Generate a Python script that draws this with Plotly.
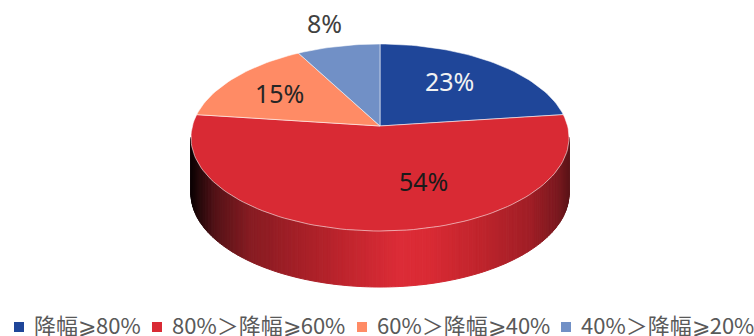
import math
import plotly.graph_objects as go

categories = ["降幅⩾80%", "80%＞降幅⩾60%", "60%＞降幅⩾40%", "40%＞降幅⩾20%"]
values = [23, 54, 15, 8]
labels = ["23%", "54%", "15%", "8%"]
colors = ["#1F4699", "#D92A34", "#FF8B65", "#7190C6"]
label_colors = ["#F2F2F2", "#1a1a1a", "#262626", "#404040"]
label_xy = [(449, 81), (423, 181), (279, 93), (324, 23)]
legend_swatch_x = [19, 157, 362, 566]
legend_text_x = [34, 172, 377, 581]
LEGEND_Y = 327
LEGEND_TEXT_Y = 324

CX, CY, A, B, K, DEPTH = 380.0, 126.0, 187.6, 92.1, 0.123, 56.0


def project(theta, r=1.0):
    u, v = r * math.sin(theta), r * math.cos(theta)
    d = 1 + K * v
    return CX + A * u / d, CY - B * v / d


STOPS = [(189, (8, 2, 3)), (215, (85, 18, 23)), (250, (135, 28, 34)), (300, (165, 31, 39)),
         (350, (194, 37, 46)), (400, (220, 44, 55)), (430, (217, 42, 52)), (480, (191, 36, 44)),
         (530, (160, 30, 38)), (558, (120, 24, 30)), (569, (90, 20, 24))]


def wall_color(x):
    for (x0, c0), (x1, c1) in zip(STOPS, STOPS[1:]):
        if x <= x1:
            t = max(0, (x - x0) / (x1 - x0))
            return "rgb(%d,%d,%d)" % tuple(round(a + (b - a) * t) for a, b in zip(c0, c1))
    return "rgb(%d,%d,%d)" % STOPS[-1][1]


fig = go.Figure()

# side wall of the disc
n = 160
t0, t1 = math.radians(97), math.radians(263)
for i in range(n):
    a0 = t0 + (t1 - t0) * i / n
    a1 = t0 + (t1 - t0) * (i + 1) / n
    x0, y0 = project(a0)
    x1, y1 = project(a1)
    col = wall_color((x0 + x1) / 2)
    fig.add_trace(go.Scatter(
        x=[x0, x1, x1, x0, x0], y=[y0, y1, y1 + DEPTH, y0 + DEPTH, y0],
        mode="lines", fill="toself", fillcolor=col, line=dict(color=col, width=1),
        hoverinfo="skip", showlegend=False))

# top slices
total = sum(values)
start = 0.0
for name, val, col in zip(categories, values, colors):
    end = start + val / total * 2 * math.pi
    steps = max(8, int(val * 2))
    pts = [project(start + (end - start) * j / steps) for j in range(steps + 1)]
    xs = [CX] + [p[0] for p in pts] + [CX]
    ys = [CY] + [p[1] for p in pts] + [CY]
    fig.add_trace(go.Scatter(
        x=xs, y=ys, mode="lines", fill="toself", fillcolor=col, name=name,
        line=dict(color="rgba(255,255,255,0.55)", width=1), hoverinfo="name", showlegend=False))
    start = end

# legend: square swatches and text
for name, col, sx, tx in zip(categories, colors, legend_swatch_x, legend_text_x):
    fig.add_trace(go.Scatter(x=[sx], y=[LEGEND_Y], mode="markers", name=name, showlegend=False,
                             marker=dict(symbol="square", size=10, color=col), hoverinfo="name"))
    fig.add_annotation(x=tx, y=LEGEND_TEXT_Y, text=name, showarrow=False, xanchor="left",
                       xshift=-2,
                       font=dict(family="Noto Sans CJK SC", size=22, color="#595959"))

for text, (x, y), col in zip(labels, label_xy, label_colors):
    fig.add_annotation(x=x, y=y, text=text, showarrow=False,
                       font=dict(family="Noto Sans, sans-serif", size=25, color=col))

fig.update_layout(
    width=754, height=336, margin=dict(l=0, r=0, t=0, b=0),
    paper_bgcolor="white", plot_bgcolor="white", showlegend=False,
    xaxis=dict(range=[0, 754], visible=False, fixedrange=True),
    yaxis=dict(range=[336, 0], visible=False, fixedrange=True),
)
fig.write_html("out.html", post_script="document.body.style.margin='0';",
               config={"displayModeBar": False})
